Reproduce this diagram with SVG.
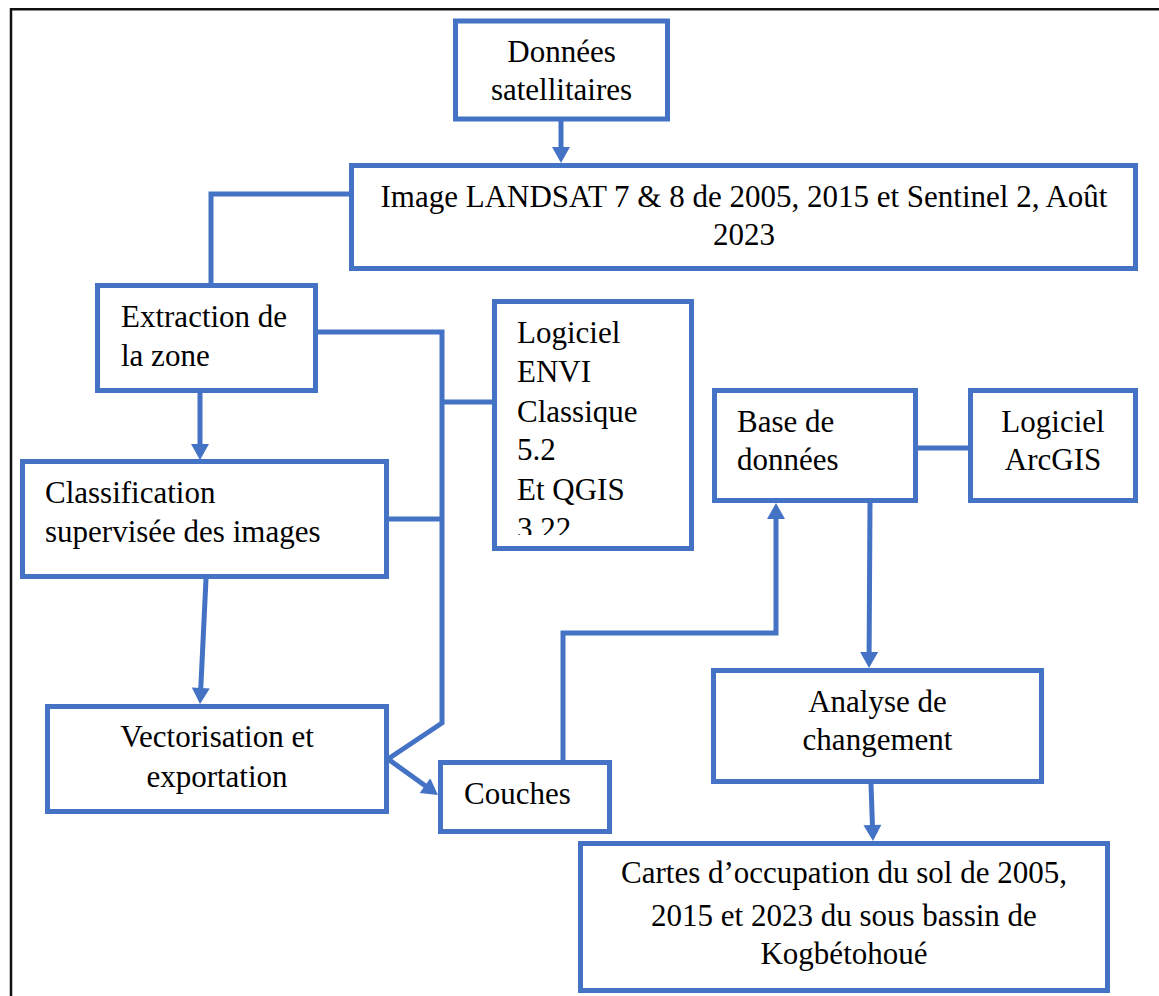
<svg xmlns="http://www.w3.org/2000/svg" width="1159" height="996" viewBox="0 0 1159 996">
<style>
.box{fill:#fff;stroke:#4472C4;stroke-width:5}
.ln{fill:none;stroke:#4472C4;stroke-width:5;stroke-linejoin:miter;stroke-linecap:butt}
.ar{marker-end:url(#ah)}
text{font-family:"Liberation Serif","Times New Roman",serif;font-size:31px;fill:#000}
.c{text-anchor:middle}
</style>
<defs>
<marker id="ah" markerUnits="userSpaceOnUse" markerWidth="18" markerHeight="18" refX="2" refY="9" orient="auto" viewBox="0 0 16 18">
<path d="M0,0 L16,9 L0,18 z" fill="#4472C4"/>
</marker>
<clipPath id="envclip"><rect x="494" y="300" width="198" height="235"/></clipPath>
</defs>
<rect width="1159" height="996" fill="#fff"/>
<g id="frame" fill="none" stroke="#111" stroke-width="2.5">
<path d="M11 996 V9.3 H1159"/>
</g>
<g id="connectors">
<path class="ln ar" d="M561 121 V149"/>
<path class="ln" d="M349 194 H211 V283"/>
<path class="ln ar" d="M200 393 V446"/>
<path class="ln" d="M318 332 H442 V723 L388 759"/>
<path class="ln" d="M389 519 H442"/>
<path class="ln" d="M442 402 H492"/>
<path class="ln ar" d="M206 579 L200.7 690"/>
<path class="ln ar" d="M388 759 L426.6 786.8"/>
<path class="ln ar" d="M563 760 V633 H776 V517"/>
<path class="ln" d="M918 448 H968"/>
<path class="ln ar" d="M870 503 L869.1 654"/>
<path class="ln ar" d="M871 784 L872.5 827"/>
</g>
<g id="donnees-satellitaires">
<rect class="box" x="455.5" y="21" width="212" height="98"/>
<text class="c" x="561.5" y="62">Données</text>
<text class="c" x="561.5" y="100">satellitaires</text>
</g>
<g id="image-landsat">
<rect class="box" x="351.5" y="165.5" width="784" height="103"/>
<text class="c" x="744" y="207">Image LANDSAT 7 &amp; 8 de 2005, 2015 et Sentinel 2, Août</text>
<text class="c" x="744" y="245">2023</text>
</g>
<g id="extraction">
<rect class="box" x="97.5" y="285.5" width="218" height="105"/>
<text x="121" y="327">Extraction de</text>
<text x="121" y="366">la zone</text>
</g>
<g id="classification">
<rect class="box" x="22.5" y="461.5" width="364" height="115"/>
<text x="45" y="503">Classification</text>
<text x="45" y="542">supervisée des images</text>
</g>
<g id="logiciel-envi">
<rect class="box" x="494.5" y="301.5" width="197" height="247"/>
<g clip-path="url(#envclip)">
<text x="517" y="343">Logiciel</text>
<text x="517" y="382">ENVI</text>
<text x="517" y="422">Classique</text>
<text x="517" y="460">5.2</text>
<text x="517" y="500">Et QGIS</text>
<text x="517" y="539">3.22</text>
</g>
</g>
<g id="vectorisation">
<rect class="box" x="47.5" y="706.5" width="339" height="105"/>
<text class="c" x="217" y="747">Vectorisation et</text>
<text class="c" x="217" y="787">exportation</text>
</g>
<g id="couches">
<rect class="box" x="440.5" y="762.5" width="169" height="69"/>
<text x="464" y="804">Couches</text>
</g>
<g id="base-de-donnees">
<rect class="box" x="714.5" y="390.5" width="201" height="110"/>
<text x="737" y="432">Base de</text>
<text x="737" y="470">données</text>
</g>
<g id="logiciel-arcgis">
<rect class="box" x="970.5" y="390.5" width="165" height="110"/>
<text class="c" x="1053" y="432">Logiciel</text>
<text class="c" x="1053" y="470">ArcGIS</text>
</g>
<g id="analyse">
<rect class="box" x="713.5" y="670.5" width="328" height="111"/>
<text class="c" x="877.5" y="712">Analyse de</text>
<text class="c" x="877.5" y="750">changement</text>
</g>
<g id="cartes">
<rect class="box" x="580.5" y="843.5" width="527" height="147"/>
<text class="c" x="844" y="883">Cartes d’occupation du sol de 2005,</text>
<text class="c" x="844" y="926">2015 et 2023 du sous bassin de</text>
<text class="c" x="844" y="964">Kogbétohoué</text>
</g>
</svg>
